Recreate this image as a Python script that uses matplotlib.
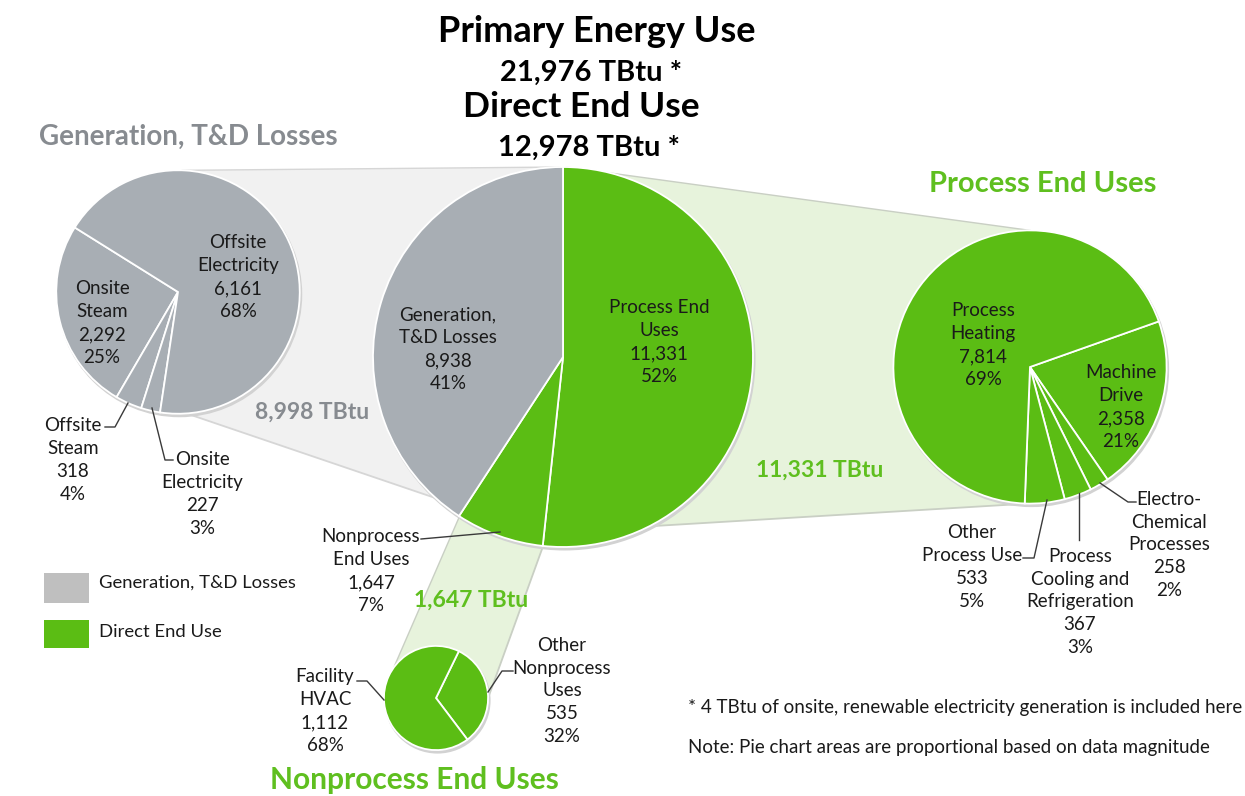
import numpy as np
import matplotlib
matplotlib.use('Agg')
import matplotlib.pyplot as plt
from matplotlib.patches import Polygon, Circle, Rectangle

plt.rcParams['font.family'] = ['Lato', 'DejaVu Sans']

# ---- data ----
main_names = ["Process End\nUses", "Nonprocess\nEnd Uses", "Generation,\nT&D Losses"]
main_values = [11331, 1647, 8938]
main_pct = [52, 7, 41]

loss_names = ["Onsite\nSteam", "Offsite\nSteam", "Onsite\nElectricity", "Offsite\nElectricity"]
loss_values = [2292, 318, 227, 6161]
loss_pct = [25, 4, 3, 68]

proc_names = ["Machine\nDrive", "Electro-\nChemical\nProcesses", "Process\nCooling and\nRefrigeration",
              "Other\nProcess Use", "Process\nHeating"]
proc_values = [2358, 258, 367, 533, 7814]
proc_pct = [21, 2, 3, 5, 69]

nonproc_names = ["Other\nNonprocess\nUses", "Facility\nHVAC"]
nonproc_values = [535, 1112]
nonproc_pct = [32, 68]

primary_total = 21976
direct_total = 12978
loss_total = 8998
renewable_onsite = 4

W, H = 1245, 796
GREEN = '#5bbd14'
GRAY = '#a8aeb4'
GREEN_TXT = '#5fbf1f'
GRAY_TXT = '#878b90'
GREEN_BAND = '#e7f3dc'
GRAY_BAND = '#f1f1f1'

fig = plt.figure(figsize=(W / 100, H / 100), dpi=100)
ax = fig.add_axes([0, 0, 1, 1])


def P(x, y):
    # pixel position (y down) -> axes coords (y up)
    return (x, H - y)


def lbl(name, v, p):
    return f"{name}\n{v:,}\n{p}%"


# pie areas proportional to totals
R_MAIN = 190
main_sum = sum(main_values)
r_loss = R_MAIN * np.sqrt(sum(loss_values) / main_sum)
r_proc = R_MAIN * np.sqrt(sum(proc_values) / main_sum)
r_non = R_MAIN * np.sqrt(sum(nonproc_values) / main_sum)

c_main = P(563, 357)
c_loss = P(178, 292)
c_proc = P(1030, 367)
c_non = P(436, 698)


def on_circle(c, r, deg):
    a = np.radians(deg)
    return (c[0] + r * np.cos(a), c[1] + r * np.sin(a))


def band(c1, r1, a1, b1, c2, r2, a2, b2, color, edge):
    pts = [on_circle(c1, r1, a1), on_circle(c2, r2, a2), on_circle(c2, r2, b2), on_circle(c1, r1, b1)]
    ax.add_patch(Polygon(pts, closed=True, fc=color, ec='none', zorder=1))
    ax.plot([pts[0][0], pts[1][0]], [pts[0][1], pts[1][1]], color=edge, lw=1, zorder=1.2)
    ax.plot([pts[2][0], pts[3][0]], [pts[2][1], pts[3][1]], color=edge, lw=1.3, zorder=1.2)


band(c_loss, r_loss, 88, -86, c_main, R_MAIN, 91, 228, GRAY_BAND, '#d6d6d6')
band(c_main, R_MAIN, 89, -63, c_proc, r_proc, 90, -91, GREEN_BAND, '#c9cfc4')
band(c_main, R_MAIN, -123, -96, c_non, r_non, 144, 0, GREEN_BAND, '#c9cfc4')

wp = dict(edgecolor='white', linewidth=1.3)


def draw_pie(vals, colors, c, r, start, ccw=False):
    ax.add_patch(Circle((c[0] + 1.5, c[1] - 2.5), r + 1, fc='#d2d2d2', ec='none', zorder=1.5))
    wedges, _ = ax.pie(vals, colors=colors, center=c, radius=r, startangle=start,
                       counterclock=ccw, wedgeprops=wp)
    for w in wedges:
        w.set_zorder(2)


draw_pie(main_values, [GREEN, GREEN, GRAY], c_main, R_MAIN, 90)
draw_pie(loss_values, [GRAY] * 4, c_loss, r_loss, 148, ccw=True)
draw_pie(proc_values, [GREEN] * 5, c_proc, r_proc, 19.5)
draw_pie(nonproc_values, [GREEN] * 2, c_non, r_non, 64)

lab = dict(fontsize=13.5, ha='center', va='center', color='#1a1a1a', linespacing=1.42, zorder=5)

# inside labels
ax.text(*P(659, 342), lbl(main_names[0], main_values[0], main_pct[0]), **lab)
ax.text(*P(448, 349), lbl(main_names[2], main_values[2], main_pct[2]), **lab)
ax.text(*P(102, 323), lbl(loss_names[0], loss_values[0], loss_pct[0]), **lab)
ax.text(*P(238, 277), lbl(loss_names[3], loss_values[3], loss_pct[3]), **lab)
ax.text(*P(983, 345), lbl(proc_names[4], proc_values[4], proc_pct[4]), **lab)
ax.text(*P(1121, 407), lbl(proc_names[0], proc_values[0], proc_pct[0]), **lab)

# outside labels with leader lines
outside = [
    (P(371, 571), lbl(main_names[1], main_values[1], main_pct[1]), [(500, 532), (421, 539)]),
    (P(73, 460), lbl(loss_names[1], loss_values[1], loss_pct[1]), [(128, 403), (115, 427), (105, 427)]),
    (P(202, 494), lbl(loss_names[2], loss_values[2], loss_pct[2]), [(152, 408), (165, 460), (173, 460)]),
    (P(972, 567), lbl(proc_names[3], proc_values[3], proc_pct[3]), [(1047, 500), (1034, 558), (1023, 558)]),
    (P(1080, 602), lbl(proc_names[2], proc_values[2], proc_pct[2]), [(1079, 493), (1079, 540)]),
    (P(1169, 545), lbl(proc_names[1], proc_values[1], proc_pct[1]), [(1100, 483), (1128, 502), (1136, 502)]),
    (P(325, 711), lbl(nonproc_names[1], nonproc_values[1], nonproc_pct[1]), [(384, 700), (367, 681), (357, 681)]),
    (P(562, 691), lbl(nonproc_names[0], nonproc_values[0], nonproc_pct[0]), [(488, 692), (502, 671), (513, 671)]),
]
for pos, txt, line in outside:
    ax.text(*pos, txt, **lab)
    xs = [p[0] for p in line]
    ys = [H - p[1] for p in line]
    ax.plot(xs, ys, color='#3a3a3a', lw=1, zorder=4)

# titles
ax.text(*P(597, 32), "Primary Energy Use", fontsize=26, fontweight='bold', ha='center', va='center')
ax.text(*P(591, 73), f"{primary_total:,} TBtu *", fontsize=21, fontweight='bold', ha='center', va='center')
ax.text(*P(581, 107), "Direct End Use", fontsize=25.5, fontweight='bold', ha='center', va='center')
ax.text(*P(589, 148), f"{direct_total:,} TBtu *", fontsize=21, fontweight='bold', ha='center', va='center')

ax.text(*P(188, 137), "Generation, T&D Losses", fontsize=20, fontweight='bold', color=GRAY_TXT,
        ha='center', va='center')
ax.text(*P(1043, 184), "Process End Uses", fontsize=21, fontweight='bold', color=GREEN_TXT,
        ha='center', va='center')
ax.text(*P(414, 780), "Nonprocess End Uses", fontsize=21.5, fontweight='bold', color=GREEN_TXT,
        ha='center', va='center')

ax.text(*P(312, 412), f"{loss_total:,} TBtu", fontsize=16.5, fontweight='bold', color=GRAY_TXT,
        ha='center', va='center', zorder=3)
ax.text(*P(820, 470), f"{main_values[0]:,} TBtu", fontsize=16.5, fontweight='bold', color=GREEN_TXT,
        ha='center', va='center', zorder=3)
ax.text(*P(471, 600), f"{main_values[1]:,} TBtu", fontsize=16.5, fontweight='bold', color=GREEN_TXT,
        ha='center', va='center', zorder=3)

# legend
ax.add_patch(Rectangle(P(44, 603), 45, 30, fc='#bfbfbf', ec='none'))
ax.add_patch(Rectangle(P(44, 648), 45, 28, fc=GREEN, ec='none'))
ax.text(*P(99, 583), "Generation, T&D Losses", fontsize=13.3, ha='left', va='center', color='#1a1a1a')
ax.text(*P(99, 632), "Direct End Use", fontsize=13.3, ha='left', va='center', color='#1a1a1a')

# notes
ax.text(*P(688, 707), f"* {renewable_onsite} TBtu of onsite, renewable electricity generation is included here",
        fontsize=13.5, ha='left', va='center', color='#1a1a1a')
ax.text(*P(688, 748), "Note: Pie chart areas are proportional based on data magnitude",
        fontsize=13.5, ha='left', va='center', color='#1a1a1a')

ax.set_aspect('equal')
ax.set_xlim(0, W)
ax.set_ylim(0, H)
ax.set_axis_off()

fig.savefig('out.png', dpi=100)
